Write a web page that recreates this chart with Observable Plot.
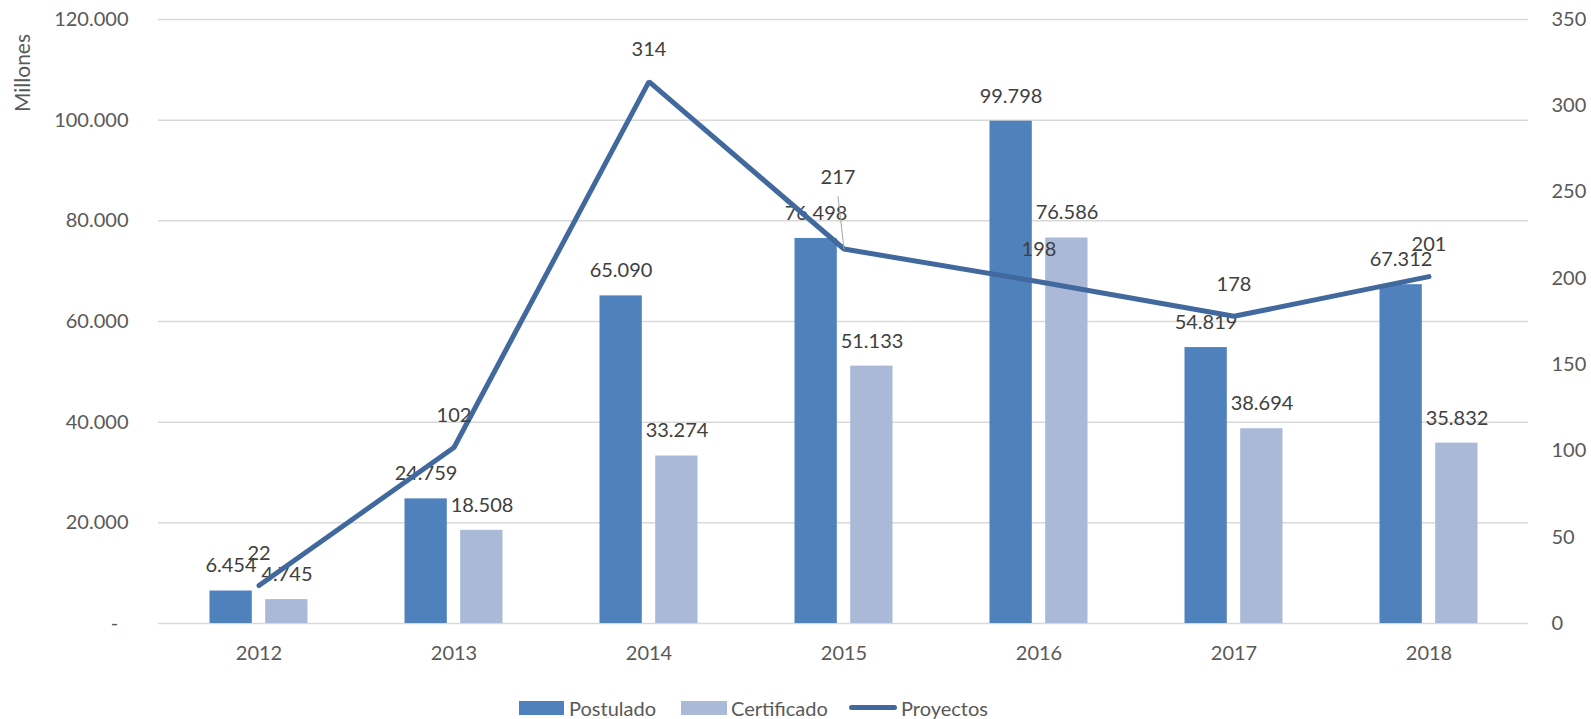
<!DOCTYPE html>
<html><head><meta charset="utf-8">
<script src="https://cdn.jsdelivr.net/npm/d3@7"></script>
<script src="https://cdn.jsdelivr.net/npm/@observablehq/plot@0.6"></script>
<style>
html,body{margin:0;padding:0;background:#fff;}
#chart{position:relative;width:1591px;height:719px;font-family:Lato,"Open Sans",sans-serif;}
#chart svg{display:block;}
.lg{position:absolute;}
.lt{position:absolute;top:696px;height:24px;line-height:24px;font-size:20px;color:#595959;white-space:nowrap;}
.ytitle{position:absolute;left:22px;top:73px;transform:translate(-50%,-50%) rotate(-90deg);font-size:21px;color:#595959;white-space:nowrap;line-height:24px;}
</style></head><body><div id="chart"></div>
<script>
const years = ["2012","2013","2014","2015","2016","2017","2018"];
const postulado = [6454, 24759, 65090, 76498, 99798, 54819, 67312];
const certificado = [4745, 18508, 33274, 51133, 76586, 38694, 35832];
const proyectos = [22, 102, 314, 217, 198, 178, 201];
const leftTicks = [0, 20000, 40000, 60000, 80000, 100000, 120000];
const rightTicks = [0, 50, 100, 150, 200, 250, 300, 350];
const seriesNames = ["Postulado", "Certificado", "Proyectos"];
const seriesColors = ["#4F81BD", "#A9B9D7", "#41699D"];
const yTitle = "Millones";

const leftMax = 120000, rightMax = 350;
const k = leftMax / rightMax;

const rows = years.map((y, i) => ({year: y, postulado: postulado[i], certificado: certificado[i], proyectos: proyectos[i]}));

const loc = d3.formatLocale({decimal: ",", thousands: ".", grouping: [3], currency: ["", ""]});
const fmt = loc.format(",d");
const leftFmt = v => v === 0 ? "-\u00a0\u00a0" : fmt(v);

const labelColor = "#404040";
const axisColor = "#595959";
const normal = rows.filter(d => d.year !== "2015");
const moved = rows.filter(d => d.year === "2015");

const plot = Plot.plot({
  width: 1591,
  height: 685,
  marginLeft: 158,
  marginRight: 63,
  marginTop: 19,
  marginBottom: 62,
  style: {fontFamily: "Lato, 'Open Sans', sans-serif", fontSize: "20px", background: "white"},
  x: {type: "band", domain: years, padding: 0},
  y: {domain: [0, leftMax]},
  marks: [
    Plot.gridY(leftTicks, {stroke: "#D9D9D9", strokeOpacity: 1, strokeWidth: 1.5}),
    Plot.barY(rows, {x: "year", y: "postulado", fill: seriesColors[0], insetLeft: 48.5, insetRight: 104.2}),
    Plot.barY(rows, {x: "year", y: "certificado", fill: seriesColors[1], insetLeft: 104.2, insetRight: 48.5}),
    Plot.text(rows, {x: "year", y: "postulado", text: d => fmt(d.postulado), dx: -28, dy: -25, fill: labelColor}),
    Plot.text(rows, {x: "year", y: "certificado", text: d => fmt(d.certificado), dx: 28, dy: -25, fill: labelColor}),
    Plot.line(rows, {x: "year", y: d => d.proyectos * k, stroke: seriesColors[2], strokeWidth: 5, strokeLinecap: "round", strokeLinejoin: "miter"}),
    Plot.vector(moved, {x: "year", y: d => d.proyectos * k, length: 53, rotate: -6.5, anchor: "start", stroke: "#A6A6A6", strokeWidth: 1,
      shape: {draw(ctx, l) { ctx.moveTo(0, 0); ctx.lineTo(0, -l); }}}),
    Plot.text(normal, {x: "year", y: d => d.proyectos * k, text: d => String(d.proyectos), dy: -32, fill: labelColor}),
    Plot.text(moved, {x: "year", y: d => d.proyectos * k, text: d => String(d.proyectos), dy: -71, dx: -6, fill: labelColor}),
    Plot.axisX({tickSize: 0, tickPadding: 22, color: axisColor, label: null}),
    Plot.axisY(leftTicks, {anchor: "left", tickSize: 0, tickPadding: 30, tickFormat: leftFmt, color: axisColor, label: null}),
    Plot.axisY(rightTicks.map(v => v * k), {anchor: "right", tickSize: 0, tickPadding: 23, tickFormat: v => String(Math.round(v / k)), color: axisColor, label: null})
  ]
});

const chart = document.getElementById("chart");
chart.appendChild(plot);

const yt = document.createElement("div");
yt.className = "ytitle";
yt.textContent = yTitle;
chart.appendChild(yt);

// legend
const lg = [
  {name: seriesNames[0], color: seriesColors[0], sx: 519, sw: 45, tx: 569, kind: "box"},
  {name: seriesNames[1], color: seriesColors[1], sx: 681, sw: 46, tx: 731, kind: "box"},
  {name: seriesNames[2], color: seriesColors[2], sx: 849, sw: 48, tx: 901, kind: "line"}
];
for (const it of lg) {
  const s = document.createElement("div");
  s.className = "lg";
  s.style.left = it.sx + "px";
  s.style.width = it.sw + "px";
  s.style.background = it.color;
  if (it.kind === "box") { s.style.top = "701px"; s.style.height = "14px"; }
  else { s.style.top = "705px"; s.style.height = "5px"; s.style.borderRadius = "3px"; }
  chart.appendChild(s);
  const t = document.createElement("div");
  t.className = "lt";
  t.style.left = it.tx + "px";
  t.textContent = it.name;
  chart.appendChild(t);
}
</script>
</body></html>
